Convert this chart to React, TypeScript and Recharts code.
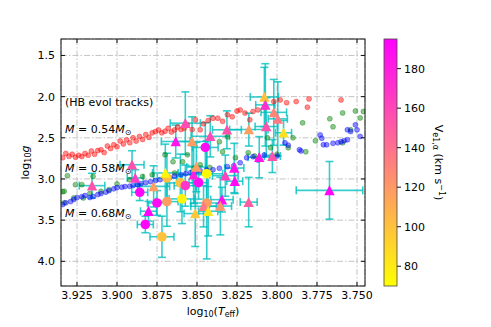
import { ScatterChart, Scatter, XAxis, YAxis, CartesianGrid, ErrorBar } from "recharts";

// HB evolutionary tracks (log Teff, log g)
const redTeff = [3.934, 3.932, 3.93, 3.928, 3.926, 3.924, 3.922, 3.92, 3.918, 3.916, 3.914, 3.912, 3.91, 3.908, 3.906, 3.904, 3.902, 3.9, 3.898, 3.896, 3.894, 3.892, 3.89, 3.888, 3.886, 3.884, 3.882, 3.88, 3.878, 3.876, 3.874, 3.872, 3.87, 3.868, 3.866, 3.864, 3.862, 3.86, 3.858, 3.856, 3.853, 3.851, 3.848, 3.846, 3.843, 3.84, 3.837, 3.834, 3.831, 3.828, 3.825, 3.823, 3.82, 3.817, 3.815, 3.812, 3.808, 3.802, 3.798, 3.794, 3.788, 3.781, 3.78, 3.76];
const redLogg = [2.742, 2.69, 2.725, 2.7, 2.735, 2.712, 2.728, 2.69, 2.712, 2.66, 2.7, 2.655, 2.645, 2.68, 2.6, 2.63, 2.585, 2.61, 2.54, 2.575, 2.525, 2.56, 2.5, 2.54, 2.485, 2.52, 2.46, 2.495, 2.44, 2.424, 2.405, 2.44, 2.42, 2.385, 2.43, 2.405, 2.37, 2.4, 2.385, 2.343, 2.4, 2.282, 2.403, 2.33, 2.29, 2.262, 2.262, 2.3, 2.22, 2.245, 2.175, 2.161, 2.2, 2.282, 2.18, 2.161, 2.13, 2.06, 2.04, 2.073, 2.06, 2.128, 2.028, 2.04];

const greenTeff = [3.934, 3.933, 3.933, 3.931, 3.927, 3.926, 3.922, 3.921, 3.917, 3.915, 3.91, 3.905, 3.9, 3.892, 3.884, 3.878, 3.87, 3.865, 3.864, 3.859, 3.856, 3.852, 3.848, 3.842, 3.836, 3.834, 3.831, 3.826, 3.818, 3.814, 3.806, 3.804, 3.8, 3.793, 3.79, 3.784, 3.782, 3.776, 3.767, 3.765, 3.759, 3.759, 3.754, 3.751, 3.748, 3.746];
const greenLogg = [3.154, 3.29, 3.15, 2.96, 3.23, 3.069, 3.069, 3.23, 3.178, 2.969, 3.15, 3.13, 3.06, 3.01, 2.969, 2.95, 2.706, 2.791, 2.927, 2.791, 2.706, 2.87, 2.827, 2.86, 2.548, 2.669, 2.488, 2.742, 2.682, 2.72, 2.5, 2.621, 2.7, 2.621, 2.5, 2.318, 2.67, 2.536, 2.27, 2.367, 2.561, 2.198, 2.403, 2.174, 2.258, 2.18];

const blueTeff = [3.934, 3.932, 3.929, 3.927, 3.925, 3.922, 3.92, 3.917, 3.915, 3.912, 3.91, 3.907, 3.905, 3.902, 3.9, 3.897, 3.895, 3.892, 3.89, 3.887, 3.885, 3.882, 3.879, 3.876, 3.873, 3.87, 3.867, 3.864, 3.86, 3.857, 3.854, 3.851, 3.848, 3.844, 3.84, 3.836, 3.831, 3.827, 3.823, 3.819, 3.815, 3.812, 3.808, 3.803, 3.8, 3.795, 3.793, 3.786, 3.785, 3.773, 3.772, 3.771, 3.769, 3.765, 3.762, 3.76, 3.758, 3.756, 3.756, 3.754, 3.751, 3.75, 3.748];
const blueLogg = [3.311, 3.29, 3.275, 3.25, 3.226, 3.215, 3.202, 3.225, 3.214, 3.19, 3.178, 3.16, 3.142, 3.12, 3.105, 3.1, 3.093, 3.088, 3.081, 3.07, 3.057, 3.045, 3.033, 3.02, 3.008, 2.995, 2.984, 2.965, 2.948, 2.935, 2.924, 2.91, 2.899, 2.89, 2.887, 2.87, 2.851, 2.839, 2.803, 2.742, 2.73, 2.77, 2.71, 2.735, 2.722, 2.561, 2.59, 2.645, 2.66, 2.465, 2.505, 2.585, 2.585, 2.567, 2.561, 2.548, 2.536, 2.524, 2.403, 2.424, 2.343, 2.403, 2.484];

// HB stars with errors, coloured by velocity
const starTeff = [3.9156, 3.8906, 3.8886, 3.8858, 3.8771, 3.875, 3.8688, 3.8803, 3.8823, 3.8719, 3.8698, 3.8688, 3.8604, 3.8594, 3.8573, 3.849, 3.8521, 3.8504, 3.844, 3.8323, 3.8267, 3.8264, 3.8439, 3.8459, 3.8344, 3.8354, 3.843, 3.8511, 3.8177, 3.7672, 3.8573, 3.8633, 3.8531, 3.8448, 3.8417, 3.8313, 3.8176, 3.8079, 3.8073, 3.802, 3.7995, 3.8067, 3.7959, 3.8111, 3.8029];
const starLogg = [3.081, 2.827, 2.988, 3.162, 3.09, 3.291, 3.275, 3.392, 3.553, 3.702, 2.927, 2.988, 3.048, 3.242, 3.081, 3.045, 2.948, 2.855, 2.936, 2.96, 2.867, 3.027, 3.291, 3.332, 3.251, 3.329, 3.392, 3.42, 3.281, 3.138, 2.322, 2.545, 2.545, 2.617, 2.482, 2.403, 2.4, 2.004, 2.1, 2.191, 2.27, 2.363, 2.439, 2.736, 2.722];
const starTeffErr = [0.008, 0.0075, 0.005, 0.005, 0.01, 0.006, 0.007, 0.005, 0.005, 0.0075, 0.008, 0.006, 0.008, 0.008, 0.007, 0.006, 0.01, 0.006, 0.01, 0.008, 0.006, 0.005, 0.01, 0.008, 0.007, 0.007, 0.006, 0.007, 0.0053, 0.0208, 0.0094, 0.009, 0.01, 0.008, 0.012, 0.009, 0.012, 0.0088, 0.006, 0.008, 0.006, 0.007, 0.005, 0.007, 0.005];
const starLoggErr = [0.15, 0.17, 0.1, 0.1, 0.25, 0.15, 0.3, 0.12, 0.1, 0.25, 0.35, 0.3, 0.35, 0.3, 0.25, 0.2, 0.35, 0.3, 0.4, 0.25, 0.3, 0.15, 0.68, 0.25, 0.15, 0.35, 0.3, 0.4, 0.3, 0.35, 0.38, 0.2, 0.3, 0.3, 0.25, 0.23, 0.2, 0.36, 0.5, 0.4, 0.45, 0.35, 0.15, 0.25, 0.2];
const starVel = [155, 155, 165, 192, 118, 190, 118, 192, 192, 100, 75, 102, 100, 75, 168, 190, 180, 118, 72, 162, 185, 190, 118, 135, 188, 122, 82, 98, 150, 192, 158, 185, 118, 190, 158, 155, 118, 100, 172, 130, 135, 155, 85, 185, 155];
const starMarker = ["t", "t", "t", "c", "t", "c", "c", "t", "c", "c", "t", "c", "c", "c", "c", "c", "t", "t", "c", "t", "t", "t", "c", "t", "t", "t", "t", "t", "t", "t", "t", "t", "t", "c", "t", "t", "t", "t", "t", "t", "t", "t", "t", "t", "t"];

const xTicks = [3.925, 3.9, 3.875, 3.85, 3.825, 3.8, 3.775, 3.75];
const yTicks = [1.5, 2.0, 2.5, 3.0, 3.5, 4.0];
const cbarTicks = [80, 100, 120, 140, 160, 180];

const X_DOMAIN: [number, number] = [3.745, 3.935];
const Y_DOMAIN: [number, number] = [1.3, 4.3];
const V_MIN = 70;
const V_MAX = 195;

const W = 491;
const H = 327;
const L = 61, R = 365, T = 39, B = 286;
const FONT = "DejaVu Sans, sans-serif";

const red = redTeff.map((x, i) => ({ x, y: redLogg[i] }));
const green = greenTeff.map((x, i) => ({ x, y: greenLogg[i] }));
const blue = blueTeff.map((x, i) => ({ x, y: blueLogg[i] }));
const stars = starTeff.map((x, i) => ({
  x,
  y: starLogg[i],
  xe: starTeffErr[i],
  ye: starLoggErr[i],
  v: starVel[i],
  m: starMarker[i],
}));
const circles = stars.filter((s) => s.m === "c");
const triangles = stars.filter((s) => s.m === "t");

// spring_r colormap
function vColor(v: number) {
  const t = Math.min(1, Math.max(0, (v - V_MIN) / (V_MAX - V_MIN)));
  return `rgb(255,${Math.round(255 * (1 - t))},${Math.round(255 * t)})`;
}

const trackDot = (color: string) => (p: any) => (
  <circle
    cx={p.cx}
    cy={p.cy}
    r={2.5}
    fill={color}
    fillOpacity={0.45}
    stroke={color}
    strokeOpacity={0.5}
    strokeWidth={0.7}
  />
);

const StarCircle = (p: any) => (
  <circle cx={p.cx} cy={p.cy} r={4.8} fill={vColor(p.payload.v)} />
);

const StarTri = (p: any) => {
  const { cx, cy } = p;
  return (
    <polygon
      points={`${cx},${cy - 5.2} ${cx - 5.2},${cy + 4.8} ${cx + 5.2},${cy + 4.8}`}
      fill={vColor(p.payload.v)}
    />
  );
};

const px = (x: number) => L + ((X_DOMAIN[1] - x) / (X_DOMAIN[1] - X_DOMAIN[0])) * (R - L);
const py = (y: number) => T + ((y - Y_DOMAIN[0]) / (Y_DOMAIN[1] - Y_DOMAIN[0])) * (B - T);
const cy = (v: number) => B - ((v - V_MIN) / (V_MAX - V_MIN)) * (B - T);

const tickStyle = { fontSize: 11, fill: "#000", fontFamily: FONT };
const errStroke = "rgba(0,191,191,0.78)";

function Overlay() {
  const tk = 4;
  return (
    <svg
      width={W}
      height={H}
      style={{ position: "absolute", left: 0, top: 0, pointerEvents: "none" }}
      fontFamily={FONT}
    >
      <defs>
        <linearGradient id="cbar" x1="0" y1="1" x2="0" y2="0">
          <stop offset="0%" stopColor="#ffff00" />
          <stop offset="100%" stopColor="#ff00ff" />
        </linearGradient>
      </defs>
      {/* frame and inward ticks */}
      <rect x={L} y={T} width={R - L} height={B - T} fill="none" stroke="#111" strokeWidth={1} />
      {xTicks.map((t) => (
        <g key={"x" + t}>
          <line x1={px(t)} x2={px(t)} y1={B} y2={B - tk} stroke="#111" />
          <line x1={px(t)} x2={px(t)} y1={T} y2={T + tk} stroke="#111" />
        </g>
      ))}
      {yTicks.map((t) => (
        <g key={"y" + t}>
          <line x1={L} x2={L + tk} y1={py(t)} y2={py(t)} stroke="#111" />
          <line x1={R} x2={R - tk} y1={py(t)} y2={py(t)} stroke="#111" />
        </g>
      ))}

      {/* annotations */}
      <text x={65} y={105.5} fontSize={11}>(HB evol tracks)</text>
      {[
        ["0.54", 133],
        ["0.58", 172],
        ["0.68", 217],
      ].map(([m, y]) => (
        <text key={m as string} x={65} y={y as number} fontSize={11}>
          <tspan fontStyle="italic">M</tspan>
          <tspan> = {m}</tspan>
          <tspan fontStyle="italic">M</tspan>
          <tspan fontSize={8} dy={2}>⊙</tspan>
        </text>
      ))}

      {/* axis labels */}
      <text x={(L + R) / 2} y={315} fontSize={11} textAnchor="middle">
        <tspan>log</tspan>
        <tspan fontSize={8} dy={2}>10</tspan>
        <tspan dy={-2}>(</tspan>
        <tspan fontStyle="italic">T</tspan>
        <tspan fontSize={8} dy={2}>eff</tspan>
        <tspan dy={-2}>)</tspan>
      </text>
      <text x={0} y={0} fontSize={11} textAnchor="middle" transform={`translate(29,${(T + B) / 2}) rotate(-90)`}>
        <tspan>log</tspan>
        <tspan fontSize={8} dy={2}>10</tspan>
        <tspan fontStyle="italic" dy={-2}>g</tspan>
      </text>

      {/* colorbar */}
      <rect x={384} y={T} width={13} height={B - T} fill="url(#cbar)" stroke="#444" strokeWidth={0.8} />
      {cbarTicks.map((v) => (
        <g key={"c" + v}>
          <line x1={397} x2={401} y1={cy(v)} y2={cy(v)} stroke="#111" />
          <text x={404} y={cy(v) + 4} fontSize={11}>{v}</text>
        </g>
      ))}
      <text x={0} y={0} fontSize={11} textAnchor="middle" transform={`translate(435,${(T + B) / 2}) rotate(90)`}>
        <tspan>V</tspan>
        <tspan fontSize={8} dy={2}>e1,α</tspan>
        <tspan dy={-2}> (km s</tspan>
        <tspan fontSize={8} dy={-4}>−1</tspan>
        <tspan dy={4}>)</tspan>
      </text>
    </svg>
  );
}

export default function App() {
  return (
    <div style={{ position: "relative", width: W, height: H, background: "#fff" }}>
      <style>{`body{margin:0}`}</style>
      <ScatterChart width={W} height={H} margin={{ top: T, right: W - R, bottom: 0, left: 0 }}>
        <CartesianGrid stroke="#bdbdbd" strokeDasharray="6 2 1.5 2" strokeWidth={0.9} />
        <XAxis
          type="number"
          dataKey="x"
          domain={X_DOMAIN}
          reversed
          allowDataOverflow
          ticks={xTicks}
          interval={0}
          tickFormatter={(v: number) => v.toFixed(3)}
          tick={tickStyle}
          tickLine={false}
          axisLine={false}
          tickSize={4}
          tickMargin={1}
          height={H - B}
        />
        <YAxis
          type="number"
          dataKey="y"
          domain={Y_DOMAIN}
          reversed
          allowDataOverflow
          ticks={yTicks}
          interval={0}
          tickFormatter={(v: number) => v.toFixed(1)}
          tick={tickStyle}
          tickLine={false}
          axisLine={false}
          tickSize={4}
          tickMargin={2}
          width={L}
        />
        <Scatter data={red} shape={trackDot("#ff0000")} isAnimationActive={false} />
        <Scatter data={green} shape={trackDot("#008000")} isAnimationActive={false} />
        <Scatter data={blue} shape={trackDot("#0000ff")} isAnimationActive={false} />
        <Scatter data={stars} shape={() => <g />} isAnimationActive={false}>
          <ErrorBar dataKey="xe" direction="x" width={4} stroke={errStroke} strokeWidth={1.6} isAnimationActive={false} />
          <ErrorBar dataKey="ye" direction="y" width={4} stroke={errStroke} strokeWidth={1.6} isAnimationActive={false} />
        </Scatter>
        <Scatter data={circles} shape={StarCircle} isAnimationActive={false} />
        <Scatter data={triangles} shape={StarTri} isAnimationActive={false} />
      </ScatterChart>
      <Overlay />
    </div>
  );
}
